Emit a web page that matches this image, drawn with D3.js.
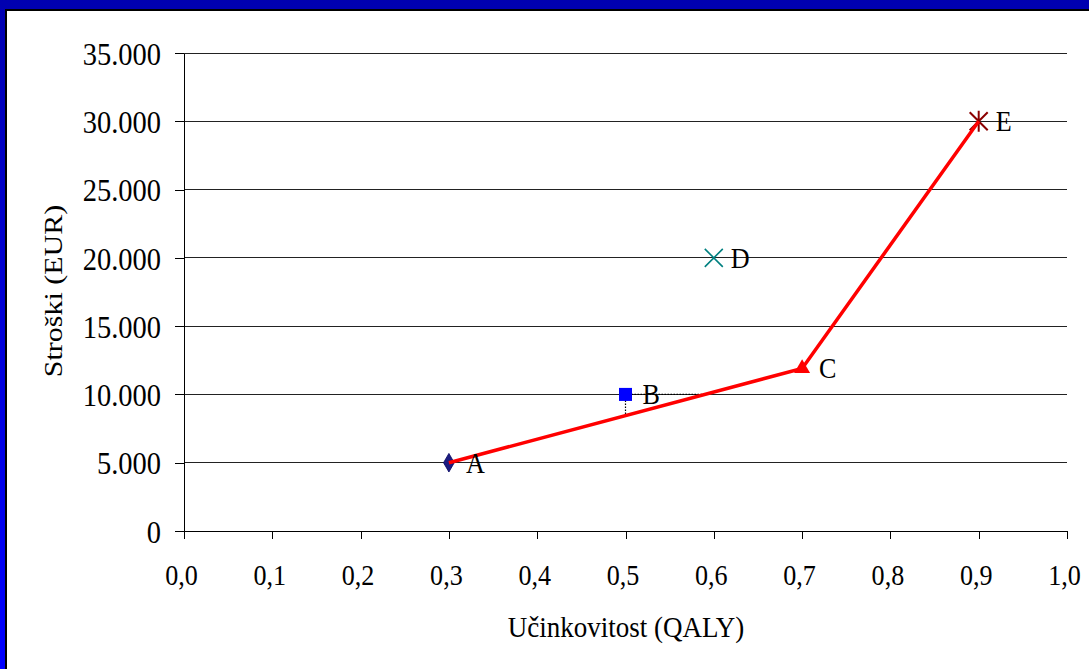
<!DOCTYPE html>
<html lang="sl">
<head>
<meta charset="utf-8">
<title>Stroški in učinkovitost</title>
<script src="https://cdnjs.cloudflare.com/ajax/libs/d3/7.8.5/d3.min.js"></script>
<style>
  body { margin: 0; background: #fff; }
  svg text { font-family: "Liberation Serif", "Times New Roman", serif; fill: #000; }
</style>
</head>
<body>
<script>
// data
var names = ['A', 'B', 'C', 'D', 'E'];
var qaly = [0.3, 0.5, 0.7, 0.6, 0.9];
var cost = [5000, 10000, 11900, 20000, 30000];
var frontier = ['A', 'C', 'E'];
var xTicks = [0, 0.1, 0.2, 0.3, 0.4, 0.5, 0.6, 0.7, 0.8, 0.9, 1.0];
var yTicks = [0, 5000, 10000, 15000, 20000, 25000, 30000, 35000];

var width = 1089, height = 669;
var plotL = 184, plotR = 1067, plotT = 53, plotB = 531;
var sx = 0.87; // glyphs look squeezed sideways
var fs = 30;

var loc = d3.formatLocale({decimal: ',', thousands: '.', grouping: [3], currency: ['', '']});
var fmtY = loc.format(',.0f');
var fmtX = loc.format('.1f');

var svg = d3.select('body').append('svg')
  .attr('width', width)
  .attr('height', height);

// blue frame
var grad = svg.append('defs').append('linearGradient')
  .attr('id', 'frame').attr('x1', 0).attr('y1', 0).attr('x2', 0).attr('y2', 1);
grad.append('stop').attr('offset', 0).attr('stop-color', '#0000b0');
grad.append('stop').attr('offset', 1).attr('stop-color', '#0000ff');
svg.append('rect').attr('width', width).attr('height', height).attr('fill', 'url(#frame)');
svg.append('rect').attr('x', 5).attr('y', 9).attr('width', width).attr('height', height).attr('fill', '#000');
svg.append('rect').attr('x', 7).attr('y', 11).attr('width', width).attr('height', height).attr('fill', '#fff');

var x = d3.scaleLinear().domain([0, 1]).range([plotL, plotR]);
var y = d3.scaleLinear().domain([0, 35000]).range([plotB, plotT]);

// grid
svg.selectAll('.grid')
  .data(yTicks.filter(function(d){ return d > 0; }))
  .enter().append('line')
  .attr('class', 'grid')
  .attr('x1', plotL).attr('x2', plotR)
  .attr('y1', function(d){ return y(d); })
  .attr('y2', function(d){ return y(d); })
  .attr('stroke', '#222').attr('stroke-width', 1)
  .attr('shape-rendering', 'crispEdges');

// axes
var yAxis = svg.append('g')
  .attr('transform', 'translate(' + plotL + ',0)')
  .call(d3.axisLeft(y).tickValues(yTicks).tickSize(9).tickSizeOuter(0).tickFormat(fmtY));
var xAxis = svg.append('g')
  .attr('transform', 'translate(0,' + plotB + ')')
  .call(d3.axisBottom(x).tickValues(xTicks).tickSize(8).tickSizeOuter(0).tickFormat(fmtX));

[yAxis, xAxis].forEach(function(g){
  g.attr('font-family', null).attr('font-size', null);
  g.selectAll('path, line').attr('stroke', '#000').attr('shape-rendering', 'crispEdges');
});
yAxis.selectAll('text')
  .attr('x', null).attr('dy', '0.35em')
  .attr('text-anchor', 'end')
  .style('font-size', '32px')
  .attr('transform', 'translate(-23,0) scale(0.89,1)');
xAxis.selectAll('text')
  .attr('y', null).attr('dy', null)
  .attr('text-anchor', 'middle')
  .style('font-size', fs + 'px')
  .attr('transform', 'translate(-3,54) scale(' + sx + ',1)');

// axis titles
svg.append('text')
  .attr('text-anchor', 'middle')
  .style('font-size', fs + 'px')
  .attr('transform', 'translate(62,291) rotate(-90) scale(1,' + sx + ')')
  .text('Stroški (EUR)');
svg.append('text')
  .attr('text-anchor', 'middle')
  .style('font-size', fs + 'px')
  .attr('transform', 'translate(626,637) scale(0.9,1)')
  .text('Učinkovitost (QALY)');

// dotted guides from B
var bi = names.indexOf('B');
var ai = names.indexOf('A'), ci = names.indexOf('C');
var slope = (cost[ci] - cost[ai]) / (qaly[ci] - qaly[ai]);
var xCross = qaly[ai] + (cost[bi] - cost[ai]) / slope;
var yCross = cost[ai] + (qaly[bi] - qaly[ai]) * slope;
svg.append('line')
  .attr('x1', x(qaly[bi])).attr('x2', x(xCross))
  .attr('y1', y(cost[bi])).attr('y2', y(cost[bi]))
  .attr('stroke', '#000').attr('stroke-width', 1.2).attr('stroke-dasharray', '1.5,1.5');
svg.append('line')
  .attr('x1', x(qaly[bi])).attr('x2', x(qaly[bi]))
  .attr('y1', y(cost[bi])).attr('y2', y(yCross))
  .attr('stroke', '#000').attr('stroke-width', 1.2).attr('stroke-dasharray', '1.5,1.5');

// markers
function pos(n){ var i = names.indexOf(n); return [x(qaly[i]), y(cost[i])]; }
var p;
p = pos('A');
svg.append('path').attr('d', d3.symbol(d3.symbolDiamond, 100)())
  .attr('transform', 'translate(' + p[0] + ',' + p[1] + ')')
  .attr('fill', '#1c1c80').attr('stroke', '#000060').attr('stroke-width', 0.8);
p = pos('B');
svg.append('path').attr('d', d3.symbol(d3.symbolSquare, 170)())
  .attr('transform', 'translate(' + p[0] + ',' + p[1] + ')')
  .attr('fill', '#0000ff');
p = pos('C');
svg.append('path').attr('d', d3.symbol(d3.symbolTriangle, 110)())
  .attr('transform', 'translate(' + p[0] + ',' + p[1] + ')')
  .attr('fill', '#ff0000');
p = pos('D');
svg.append('path')
  .attr('d', 'M-9,-9L9,9M-9,9L9,-9')
  .attr('transform', 'translate(' + p[0] + ',' + p[1] + ')')
  .attr('stroke', '#008080').attr('stroke-width', 1.6).attr('fill', 'none');
p = pos('E');
svg.append('path')
  .attr('d', 'M-9,-9L9,9M-9,9L9,-9M0,-10.5L0,10.5')
  .attr('transform', 'translate(' + p[0] + ',' + p[1] + ')')
  .attr('stroke', '#8b0000').attr('stroke-width', 2).attr('fill', 'none');

// frontier line
var line = d3.line()
  .x(function(n){ return x(qaly[names.indexOf(n)]); })
  .y(function(n){ return y(cost[names.indexOf(n)]); });
svg.append('path')
  .datum(frontier)
  .attr('d', line)
  .attr('fill', 'none')
  .attr('stroke', '#ff0000')
  .attr('stroke-width', 3.5);

// point labels
svg.selectAll('.plabel')
  .data(names)
  .enter().append('text')
  .attr('class', 'plabel')
  .style('font-size', fs + 'px')
  .attr('transform', function(d, i){
    return 'translate(' + (x(qaly[i]) + 17) + ',' + (y(cost[i]) + 10) + ') scale(' + sx + ',1)';
  })
  .text(function(d){ return d; });
</script>
</body>
</html>
